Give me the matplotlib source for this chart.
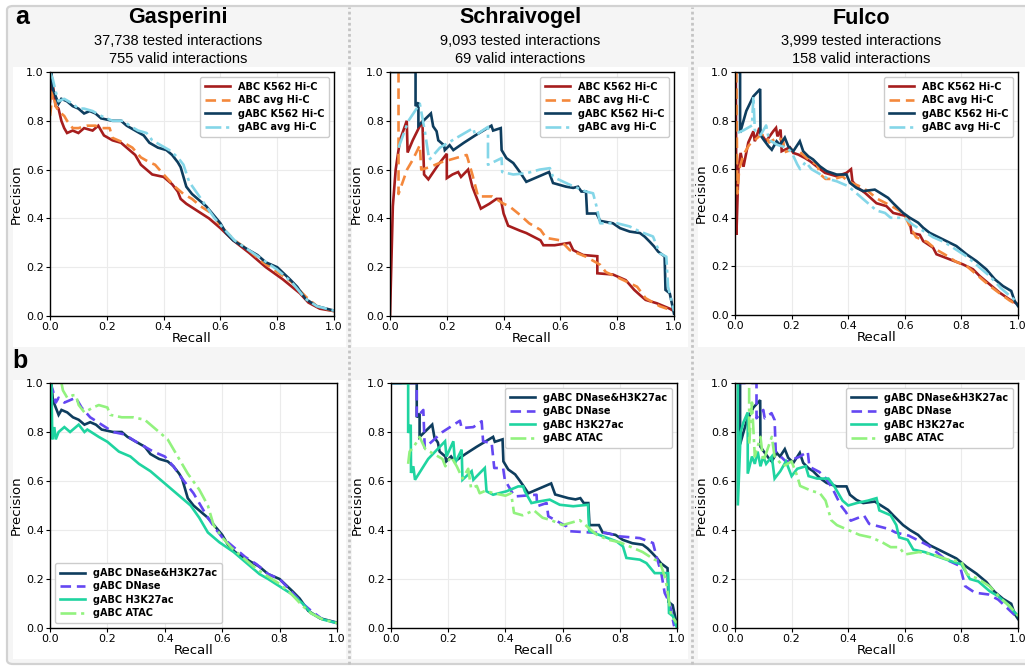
import matplotlib
matplotlib.use("Agg")
import matplotlib.pyplot as plt
from matplotlib.patches import FancyBboxPatch, Rectangle
from matplotlib.lines import Line2D

# ---------------- data (recall, precision) ----------------
datasets = ["Gasperini", "Schraivogel", "Fulco"]
tested = ["37,738", "9,093", "3,999"]
valid = ["755", "69", "158"]
row_a_labels = ["ABC K562 Hi-C", "ABC avg Hi-C", "gABC K562 Hi-C", "gABC avg Hi-C"]
row_b_labels = ["gABC DNase&H3K27ac", "gABC DNase", "gABC H3K27ac", "gABC ATAC"]
ticks = [0.0, 0.2, 0.4, 0.6, 0.8, 1.0]

# Gasperini
gas_abc_k562 = [(0.0,0.88),(0.005,0.98),(0.012,0.93),(0.02,0.86),(0.03,0.85),(0.04,0.80),(0.05,0.77),(0.06,0.75),(0.08,0.76),(0.10,0.75),(0.12,0.77),(0.15,0.76),(0.17,0.78),(0.19,0.74),(0.22,0.72),(0.25,0.71),(0.27,0.69),(0.30,0.66),(0.32,0.62),(0.34,0.60),(0.36,0.58),(0.40,0.57),(0.43,0.54),(0.45,0.51),(0.46,0.48),(0.48,0.46),(0.52,0.43),(0.56,0.40),(0.60,0.36),(0.645,0.31),(0.70,0.26),(0.76,0.20),(0.82,0.15),(0.88,0.093),(0.91,0.055),(0.95,0.03),(1.0,0.02)]
gas_abc_avg = [(0.0,0.82),(0.01,0.92),(0.02,0.86),(0.03,0.84),(0.05,0.82),(0.06,0.80),(0.08,0.77),(0.10,0.77),(0.13,0.78),(0.16,0.78),(0.18,0.77),(0.21,0.77),(0.22,0.73),(0.26,0.71),(0.29,0.69),(0.32,0.65),(0.35,0.63),(0.37,0.62),(0.40,0.58),(0.44,0.53),(0.47,0.50),(0.50,0.48),(0.53,0.45),(0.57,0.42),(0.60,0.37),(0.65,0.31),(0.70,0.27),(0.75,0.22),(0.80,0.18),(0.85,0.14),(0.90,0.08),(0.94,0.04),(1.0,0.02)]
gas_gabc_k562 = [(0.0,1.0),(0.005,1.0),(0.01,0.93),(0.02,0.90),(0.03,0.87),(0.04,0.89),(0.06,0.88),(0.08,0.86),(0.10,0.85),(0.12,0.83),(0.14,0.84),(0.16,0.83),(0.18,0.81),(0.22,0.80),(0.25,0.80),(0.27,0.78),(0.30,0.76),(0.33,0.74),(0.35,0.71),(0.38,0.69),(0.41,0.68),(0.43,0.66),(0.45,0.63),(0.46,0.61),(0.48,0.53),(0.50,0.50),(0.55,0.45),(0.60,0.38),(0.62,0.34),(0.645,0.31),(0.70,0.27),(0.73,0.25),(0.76,0.22),(0.80,0.20),(0.845,0.15),(0.87,0.12),(0.90,0.07),(0.94,0.04),(1.0,0.022)]
gas_gabc_avg = [(0.0,1.0),(0.01,0.97),(0.02,0.92),(0.03,0.88),(0.05,0.89),(0.08,0.87),(0.10,0.85),(0.12,0.85),(0.15,0.84),(0.18,0.82),(0.22,0.80),(0.26,0.80),(0.28,0.78),(0.31,0.76),(0.34,0.75),(0.36,0.72),(0.39,0.70),(0.42,0.68),(0.45,0.65),(0.47,0.62),(0.49,0.55),(0.52,0.50),(0.55,0.45),(0.58,0.40),(0.61,0.36),(0.65,0.31),(0.70,0.27),(0.75,0.23),(0.80,0.19),(0.85,0.14),(0.90,0.07),(0.94,0.04),(1.0,0.022)]
gas_dnase = [(0.0,1.0),(0.01,0.97),(0.02,0.92),(0.03,0.94),(0.05,0.92),(0.07,0.93),(0.09,0.94),(0.11,0.90),(0.14,0.86),(0.18,0.83),(0.22,0.80),(0.26,0.79),(0.30,0.76),(0.33,0.74),(0.36,0.72),(0.40,0.70),(0.43,0.66),(0.46,0.61),(0.50,0.55),(0.53,0.49),(0.55,0.45),(0.58,0.40),(0.60,0.37),(0.64,0.33),(0.68,0.29),(0.72,0.26),(0.76,0.22),(0.80,0.20),(0.84,0.15),(0.88,0.10),(0.91,0.07),(0.95,0.035),(1.0,0.02)]
gas_h3k27ac = [(0.005,1.0),(0.008,0.77),(0.015,0.82),(0.02,0.77),(0.03,0.80),(0.05,0.82),(0.07,0.80),(0.10,0.83),(0.12,0.80),(0.13,0.81),(0.17,0.78),(0.20,0.76),(0.24,0.72),(0.28,0.70),(0.31,0.67),(0.35,0.64),(0.38,0.61),(0.43,0.56),(0.46,0.53),(0.49,0.50),(0.52,0.45),(0.55,0.39),(0.59,0.35),(0.64,0.31),(0.68,0.27),(0.73,0.22),(0.76,0.20),(0.80,0.17),(0.84,0.14),(0.88,0.10),(0.91,0.06),(0.95,0.035),(1.0,0.02)]
gas_atac = [(0.04,1.0),(0.045,0.97),(0.06,0.94),(0.08,0.95),(0.09,0.95),(0.10,0.91),(0.12,0.88),(0.15,0.90),(0.17,0.91),(0.20,0.90),(0.21,0.87),(0.25,0.86),(0.29,0.86),(0.33,0.85),(0.37,0.81),(0.41,0.77),(0.44,0.71),(0.48,0.63),(0.52,0.565),(0.55,0.50),(0.57,0.42),(0.60,0.37),(0.63,0.33),(0.68,0.28),(0.72,0.24),(0.76,0.21),(0.80,0.18),(0.84,0.14),(0.88,0.09),(0.91,0.06),(0.95,0.035),(1.0,0.02)]

# Schraivogel
sch_abc_k562 = [(0.0,0.0),(0.01,0.45),(0.02,0.60),(0.035,0.72),(0.059,0.80),(0.062,0.67),(0.08,0.72),(0.114,0.80),(0.12,0.58),(0.135,0.56),(0.17,0.62),(0.20,0.665),(0.20,0.565),(0.22,0.58),(0.24,0.59),(0.25,0.57),(0.275,0.60),(0.29,0.53),(0.32,0.44),(0.35,0.46),(0.375,0.48),(0.39,0.48),(0.40,0.42),(0.416,0.37),(0.457,0.35),(0.48,0.34),(0.53,0.31),(0.54,0.29),(0.58,0.29),(0.633,0.30),(0.645,0.27),(0.68,0.25),(0.73,0.245),(0.73,0.175),(0.785,0.17),(0.83,0.147),(0.86,0.107),(0.88,0.086),(0.90,0.066),(0.94,0.052),(0.985,0.03),(1.0,0.02)]
sch_abc_avg = [(0.03,1.0),(0.03,0.50),(0.045,0.55),(0.06,0.60),(0.08,0.64),(0.105,0.70),(0.11,0.60),(0.14,0.61),(0.18,0.63),(0.21,0.64),(0.24,0.65),(0.27,0.66),(0.28,0.62),(0.29,0.58),(0.31,0.49),(0.36,0.49),(0.40,0.46),(0.42,0.45),(0.457,0.415),(0.49,0.38),(0.53,0.353),(0.55,0.32),(0.60,0.31),(0.633,0.27),(0.69,0.243),(0.74,0.21),(0.76,0.18),(0.82,0.148),(0.87,0.12),(0.90,0.073),(0.95,0.04),(1.0,0.02)]
sch_gabc_k562 = [(0.0,1.0),(0.09,1.0),(0.09,0.86),(0.10,0.875),(0.10,0.78),(0.144,0.83),(0.152,0.777),(0.164,0.757),(0.17,0.72),(0.19,0.70),(0.193,0.68),(0.21,0.70),(0.223,0.68),(0.26,0.71),(0.30,0.74),(0.357,0.78),(0.363,0.76),(0.39,0.77),(0.393,0.68),(0.41,0.647),(0.434,0.627),(0.451,0.60),(0.463,0.58),(0.48,0.55),(0.52,0.57),(0.56,0.59),(0.574,0.545),(0.62,0.53),(0.645,0.525),(0.662,0.53),(0.674,0.51),(0.69,0.51),(0.694,0.42),(0.727,0.42),(0.74,0.39),(0.785,0.38),(0.81,0.36),(0.844,0.346),(0.88,0.34),(0.897,0.325),(0.914,0.305),(0.93,0.285),(0.944,0.264),(0.967,0.244),(0.97,0.107),(0.985,0.093),(1.0,0.01)]
sch_gabc_avg = [(0.03,0.69),(0.065,0.80),(0.105,0.87),(0.123,0.755),(0.138,0.64),(0.176,0.69),(0.234,0.73),(0.293,0.77),(0.30,0.74),(0.345,0.775),(0.345,0.62),(0.393,0.647),(0.395,0.59),(0.434,0.58),(0.48,0.585),(0.527,0.60),(0.563,0.606),(0.574,0.57),(0.633,0.538),(0.69,0.51),(0.715,0.503),(0.727,0.45),(0.74,0.38),(0.80,0.38),(0.844,0.367),(0.88,0.346),(0.926,0.326),(0.95,0.257),(0.973,0.243),(0.979,0.12),(1.0,0.02)]
sch_dnase = [(0.0,1.0),(0.09,1.0),(0.09,0.86),(0.113,0.89),(0.118,0.735),(0.18,0.80),(0.241,0.846),(0.247,0.816),(0.288,0.82),(0.317,0.844),(0.322,0.762),(0.352,0.755),(0.361,0.653),(0.392,0.653),(0.398,0.605),(0.421,0.558),(0.433,0.537),(0.509,0.544),(0.511,0.497),(0.544,0.51),(0.55,0.456),(0.613,0.415),(0.625,0.395),(0.695,0.39),(0.753,0.388),(0.80,0.374),(0.87,0.367),(0.916,0.347),(0.928,0.293),(0.945,0.224),(0.957,0.143),(0.974,0.102),(0.99,0.007)]
sch_h3k27ac = [(0.0,1.0),(0.06,1.0),(0.06,0.796),(0.069,0.83),(0.07,0.633),(0.078,0.66),(0.084,0.605),(0.13,0.69),(0.189,0.762),(0.194,0.70),(0.218,0.762),(0.224,0.673),(0.247,0.728),(0.25,0.605),(0.282,0.64),(0.288,0.605),(0.311,0.633),(0.328,0.653),(0.334,0.558),(0.357,0.544),(0.404,0.558),(0.445,0.578),(0.462,0.578),(0.468,0.558),(0.491,0.51),(0.52,0.517),(0.555,0.524),(0.59,0.503),(0.637,0.497),(0.689,0.503),(0.693,0.395),(0.742,0.374),(0.788,0.354),(0.811,0.333),(0.823,0.286),(0.87,0.279),(0.893,0.265),(0.922,0.224),(0.969,0.224),(0.972,0.061),(0.986,0.048),(1.0,0.0)]
sch_atac = [(0.06,0.67),(0.065,0.72),(0.08,0.74),(0.10,0.78),(0.12,0.73),(0.15,0.71),(0.18,0.69),(0.19,0.66),(0.21,0.70),(0.23,0.66),(0.25,0.61),(0.27,0.65),(0.28,0.57),(0.30,0.58),(0.31,0.55),(0.33,0.56),(0.36,0.55),(0.40,0.54),(0.42,0.55),(0.43,0.47),(0.46,0.46),(0.50,0.48),(0.53,0.45),(0.56,0.44),(0.60,0.42),(0.63,0.43),(0.66,0.44),(0.69,0.41),(0.72,0.38),(0.76,0.36),(0.80,0.35),(0.84,0.33),(0.88,0.31),(0.92,0.28),(0.94,0.27),(0.96,0.20),(0.98,0.05),(1.0,0.02)]

# Fulco
ful_abc_k562 = [(0.003,1.0),(0.005,0.33),(0.012,0.60),(0.02,0.667),(0.03,0.61),(0.047,0.71),(0.065,0.756),(0.07,0.715),(0.086,0.77),(0.094,0.742),(0.11,0.715),(0.135,0.756),(0.145,0.77),(0.15,0.735),(0.161,0.763),(0.165,0.674),(0.194,0.69),(0.206,0.667),(0.224,0.66),(0.247,0.646),(0.265,0.633),(0.288,0.612),(0.318,0.585),(0.359,0.571),(0.394,0.585),(0.41,0.60),(0.415,0.55),(0.435,0.523),(0.459,0.503),(0.50,0.46),(0.535,0.448),(0.559,0.42),(0.606,0.407),(0.618,0.38),(0.624,0.338),(0.653,0.33),(0.665,0.304),(0.70,0.277),(0.712,0.25),(0.759,0.229),(0.806,0.208),(0.841,0.188),(0.865,0.16),(0.90,0.126),(0.935,0.092),(0.97,0.064),(1.0,0.044)]
ful_abc_avg = [(0.005,1.0),(0.008,0.50),(0.015,0.60),(0.03,0.66),(0.05,0.70),(0.07,0.72),(0.09,0.74),(0.11,0.74),(0.12,0.71),(0.15,0.73),(0.17,0.72),(0.175,0.67),(0.20,0.68),(0.23,0.67),(0.25,0.65),(0.27,0.63),(0.29,0.62),(0.30,0.58),(0.32,0.56),(0.35,0.56),(0.38,0.57),(0.40,0.55),(0.44,0.53),(0.47,0.51),(0.50,0.48),(0.55,0.45),(0.58,0.43),(0.60,0.41),(0.62,0.36),(0.64,0.32),(0.68,0.30),(0.71,0.27),(0.74,0.25),(0.78,0.22),(0.82,0.20),(0.86,0.16),(0.90,0.12),(0.94,0.085),(0.97,0.06),(1.0,0.04)]
ful_gabc_k562 = [(0.015,1.0),(0.018,1.0),(0.018,0.75),(0.04,0.84),(0.065,0.90),(0.089,0.93),(0.09,0.74),(0.102,0.72),(0.118,0.695),(0.13,0.68),(0.147,0.715),(0.159,0.70),(0.176,0.73),(0.188,0.695),(0.206,0.674),(0.229,0.715),(0.241,0.674),(0.259,0.653),(0.276,0.64),(0.30,0.612),(0.324,0.592),(0.359,0.578),(0.394,0.578),(0.406,0.544),(0.429,0.523),(0.453,0.51),(0.494,0.516),(0.512,0.503),(0.541,0.482),(0.559,0.46),(0.594,0.42),(0.618,0.40),(0.647,0.38),(0.665,0.359),(0.688,0.338),(0.735,0.311),(0.782,0.284),(0.818,0.25),(0.853,0.222),(0.888,0.188),(0.918,0.147),(0.947,0.119),(0.976,0.099),(0.988,0.058),(1.0,0.037)]
ful_gabc_avg = [(0.01,0.75),(0.03,0.76),(0.06,0.78),(0.065,0.90),(0.07,0.76),(0.09,0.74),(0.11,0.78),(0.12,0.72),(0.15,0.70),(0.18,0.69),(0.20,0.67),(0.22,0.62),(0.23,0.60),(0.25,0.63),(0.27,0.60),(0.30,0.58),(0.33,0.56),(0.36,0.55),(0.40,0.53),(0.43,0.50),(0.46,0.47),(0.48,0.45),(0.50,0.43),(0.53,0.42),(0.55,0.40),(0.60,0.40),(0.63,0.37),(0.66,0.35),(0.70,0.32),(0.74,0.30),(0.78,0.27),(0.82,0.24),(0.86,0.20),(0.90,0.16),(0.94,0.11),(0.97,0.08),(1.0,0.05)]
ful_dnase = [(0.0,1.0),(0.076,1.0),(0.076,0.856),(0.10,0.89),(0.105,0.856),(0.129,0.877),(0.14,0.849),(0.144,0.72),(0.181,0.678),(0.228,0.699),(0.257,0.72),(0.263,0.658),(0.298,0.637),(0.322,0.61),(0.345,0.568),(0.374,0.50),(0.392,0.473),(0.409,0.438),(0.456,0.459),(0.474,0.425),(0.544,0.404),(0.567,0.39),(0.614,0.377),(0.684,0.336),(0.743,0.281),(0.795,0.253),(0.813,0.171),(0.848,0.144),(0.895,0.137),(0.93,0.116),(1.0,0.04)]
ful_h3k27ac = [(0.01,1.0),(0.01,0.50),(0.02,0.80),(0.03,0.84),(0.045,0.88),(0.045,0.63),(0.06,0.70),(0.07,0.67),(0.08,0.72),(0.09,0.66),(0.10,0.70),(0.11,0.67),(0.13,0.70),(0.14,0.61),(0.16,0.64),(0.18,0.68),(0.20,0.62),(0.22,0.65),(0.25,0.66),(0.26,0.62),(0.29,0.61),(0.33,0.61),(0.35,0.58),(0.36,0.56),(0.38,0.52),(0.40,0.50),(0.43,0.51),(0.47,0.52),(0.50,0.53),(0.51,0.48),(0.55,0.46),(0.57,0.42),(0.58,0.37),(0.61,0.36),(0.63,0.32),(0.67,0.31),(0.72,0.29),(0.77,0.27),(0.80,0.26),(0.83,0.20),(0.86,0.19),(0.90,0.15),(0.93,0.13),(0.96,0.10),(1.0,0.05)]
ful_atac = [(0.05,0.98),(0.05,0.75),(0.06,0.92),(0.07,0.70),(0.09,0.78),(0.10,0.68),(0.13,0.78),(0.14,0.70),(0.17,0.66),(0.20,0.68),(0.22,0.62),(0.23,0.58),(0.27,0.56),(0.30,0.55),(0.32,0.52),(0.34,0.44),(0.36,0.42),(0.40,0.40),(0.44,0.38),(0.48,0.37),(0.52,0.35),(0.55,0.33),(0.58,0.33),(0.60,0.30),(0.65,0.31),(0.70,0.30),(0.75,0.28),(0.80,0.27),(0.82,0.22),(0.86,0.20),(0.90,0.17),(0.94,0.12),(0.97,0.09),(1.0,0.05)]

row_a_series = [
    [gas_abc_k562, gas_abc_avg, gas_gabc_k562, gas_gabc_avg],
    [sch_abc_k562, sch_abc_avg, sch_gabc_k562, sch_gabc_avg],
    [ful_abc_k562, ful_abc_avg, ful_gabc_k562, ful_gabc_avg],
]
row_b_series = [
    [gas_gabc_k562, gas_dnase, gas_h3k27ac, gas_atac],
    [sch_gabc_k562, sch_dnase, sch_h3k27ac, sch_atac],
    [ful_gabc_k562, ful_dnase, ful_h3k27ac, ful_atac],
]

# ---------------- styles ----------------
row_a_styles = [
    dict(color="#a61d1d", ls="-"),
    dict(color="#f4883c", ls=(0, (4, 2.2))),
    dict(color="#0e3d5e", ls="-"),
    dict(color="#84d6e8", ls=(0, (6, 1.8, 1.2, 1.8))),
]
row_b_styles = [
    dict(color="#0e3d5e", ls="-"),
    dict(color="#6447f2", ls=(0, (4, 2.2))),
    dict(color="#1fd4a0", ls="-"),
    dict(color="#92f27e", ls=(0, (6, 1.8, 1.2, 1.8))),
]
row_b_legend_loc = ["lower left", "upper right", "upper right"]

W, H = 1025, 669
fig = plt.figure(figsize=(W / 100, H / 100), dpi=100, facecolor="white")

def frac(x0, y0, x1, y1):
    return [x0 / W, 1 - y1 / H, (x1 - x0) / W, (y1 - y0) / H]

# background panel
bg = FancyBboxPatch((7 / W, 1 - 664 / H), 1030 / W, 658 / H,
                    boxstyle="round,pad=0,rounding_size=0.006",
                    transform=fig.transFigure, facecolor="#f5f5f5",
                    edgecolor="#d2d2d2", linewidth=1.6, zorder=0)
fig.patches.append(bg)
white_x = [(13, 346), (352, 688), (698, 1025)]
white_y = [(67, 347), (380, 659)]
for (x0, x1) in white_x:
    for (y0, y1) in white_y:
        fig.patches.append(Rectangle((x0 / W, 1 - y1 / H), (x1 - x0) / W, (y1 - y0) / H,
                                     transform=fig.transFigure, facecolor="white",
                                     edgecolor="none", zorder=0.5))
for sx in [349, 692]:
    fig.lines.append(Line2D([sx / W, sx / W], [1 - 664 / H, 1 - 7 / H], transform=fig.transFigure,
                            color="#c4c4c4", linewidth=2.0, linestyle=(0, (1, 1)), zorder=1))

title_font = ["Liberation Sans", "DejaVu Sans"]
fig.text(15 / W, 1 - 17 / H, "a", fontsize=18, fontweight="bold", family=title_font, va="center", ha="left")
fig.text(12 / W, 1 - 361 / H, "b", fontsize=18, fontweight="bold", family=title_font, va="center", ha="left")

title_cx = [178, 520, 861]
for i, name in enumerate(datasets):
    fig.text(title_cx[i] / W, 1 - 18 / H, name, fontsize=15.5, fontweight="bold", family=title_font,
             ha="center", va="center")
    fig.text(title_cx[i] / W, 1 - 41 / H, f"{tested[i]} tested interactions", fontsize=10.5,
             family=title_font, ha="center", va="center")
    fig.text(title_cx[i] / W, 1 - 59 / H, f"{valid[i]} valid interactions", fontsize=10.5,
             family=title_font, ha="center", va="center")

axes_a = [(50, 72, 334, 316), (390, 72, 674, 316), (735, 72, 1018, 315)]
axes_b = [(50, 383, 337, 628), (391, 383, 677, 628), (735, 383, 1018, 628)]

def style_ax(ax):
    ax.set_xlim(0, 1)
    ax.set_ylim(0, 1)
    ax.set_xticks(ticks)
    ax.set_yticks(ticks)
    ax.set_xticklabels([f"{t:.1f}" for t in ticks])
    ax.set_yticklabels([f"{t:.1f}" for t in ticks])
    ax.tick_params(labelsize=8, length=3, width=0.8, pad=1.5)
    ax.grid(True, color="#ebebeb", linewidth=0.8)
    ax.set_axisbelow(True)
    for s in ax.spines.values():
        s.set_linewidth(1.0)
    ax.set_xlabel("Recall", fontsize=9.5, labelpad=0)
    ax.set_ylabel("Precision", fontsize=9.5, labelpad=2)

def draw(rect, series, labels, styles, loc):
    ax = fig.add_axes(frac(*rect), zorder=2)
    for data, lab, st in zip(series, labels, styles):
        r = [p[0] for p in data]
        p = [q[1] for q in data]
        ax.plot(r, p, color=st["color"], linestyle=st["ls"], linewidth=1.9, label=lab,
                solid_joinstyle="miter")
    style_ax(ax)
    ax.legend(loc=loc, prop={"weight": "bold", "size": 7}, handlelength=2.6,
              borderpad=0.5, labelspacing=0.35, framealpha=1, edgecolor="#cccccc",
              fancybox=True)
    return ax

for i in range(3):
    draw(axes_a[i], row_a_series[i], row_a_labels, row_a_styles, "upper right")
    draw(axes_b[i], row_b_series[i], row_b_labels, row_b_styles, row_b_legend_loc[i])

fig.savefig("out.png", dpi=100, facecolor="white")
